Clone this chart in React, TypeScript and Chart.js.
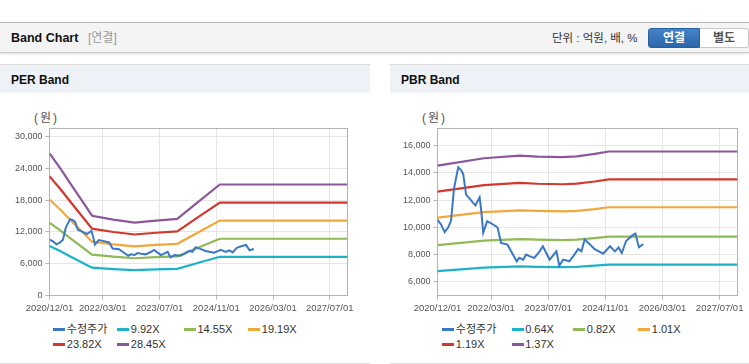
import React, { useEffect, useRef } from 'react';
import { Chart, registerables } from 'chart.js';

Chart.register(...registerables);

// ---------- data ----------
const xTickMonths = [0, 15, 31, 47, 63, 79]; // months since 2020/12
const xTickLabels = ['2020/12/01', '2022/03/01', '2023/07/01', '2024/11/01', '2026/03/01', '2027/07/01'];

const priceMonths = [0, 1, 2, 3, 3.8, 4.6, 5.8, 6.6, 7.2, 8.0, 9.0, 10.6, 11.8, 12.3, 12.8, 13.9, 15.0, 16.8, 17.8, 19.6, 20.5, 22.2, 22.9, 24.0, 24.8, 25.9, 27.1, 28.5, 29.5, 31.4, 33.3, 34.1, 35.2, 36.9, 38.0, 39.4, 40.3, 41.2, 42.5, 44.0, 46.4, 48.3, 49.7, 50.7, 51.6, 52.8, 54.5, 55.4, 56.4, 57.6];
const priceValues = [10560, 10200, 9650, 10000, 10500, 12800, 14400, 14200, 13900, 12400, 12100, 11600, 12200, 11100, 9600, 10450, 10300, 10000, 8850, 8730, 8300, 7500, 7760, 7630, 8000, 7870, 7760, 8200, 8610, 7630, 8240, 7190, 7630, 7510, 7870, 8420, 8240, 9100, 8800, 8400, 8070, 8610, 8240, 8530, 8120, 9000, 9390, 9540, 8530, 8780];

const perBandMonths = [0, 3, 6, 9, 12, 18, 24, 30, 36, 42, 48, 84];
const per992 = [9355, 8382, 7321, 6289, 5248, 4990, 4791, 4930, 5039, 6170, 7301, 7301];
const per1455 = [13721, 12295, 10738, 9225, 7697, 7319, 7028, 7231, 7391, 9050, 10709, 10709];
const per1919 = [18096, 16216, 14162, 12166, 10152, 9653, 9269, 9537, 9749, 11936, 14124, 14124];
const per2382 = [22462, 20128, 17579, 15102, 12601, 11981, 11505, 11839, 12101, 14816, 17532, 17532];
const per2845 = [26828, 24040, 20996, 18037, 15050, 14310, 13741, 14140, 14453, 17696, 20939, 20939];

const pbrBandMonths = [0, 13, 23, 28, 35, 39, 44, 48, 84];
const pbr064 = [6784, 7040, 7130, 7098, 7078, 7104, 7187, 7270, 7270];
const pbr082 = [8692, 9020, 9135, 9094, 9069, 9102, 9209, 9315, 9315];
const pbr101 = [10706, 11110, 11251, 11201, 11171, 11211, 11342, 11474, 11474];
const pbr119 = [12614, 13090, 13257, 13197, 13161, 13209, 13364, 13518, 13518];
const pbr137 = [14522, 15070, 15262, 15193, 15152, 15207, 15385, 15563, 15563];

const perLabels = ['수정주가', '9.92X', '14.55X', '19.19X', '23.82X', '28.45X'];
const pbrLabels = ['수정주가', '0.64X', '0.82X', '1.01X', '1.19X', '1.37X'];
const seriesColors = ['#3a78c6', '#1cb3c8', '#8fba55', '#f2a73a', '#d2382c', '#8c579b'];

const perYTicks = [0, 6000, 12000, 18000, 24000, 30000];
const pbrYTicks = [6000, 8000, 10000, 12000, 14000, 16000];

const FONT = "'Liberation Sans', Arial, 'Noto Sans CJK KR', sans-serif";

const toXY = (xs: number[], ys: number[]) => xs.map((x, i) => ({ x, y: ys[i] }));

const plotBorder = {
  id: 'plotBorder',
  beforeDatasetsDraw(chart: any) {
    const { ctx, chartArea } = chart;
    const { left, top, right, bottom } = chartArea;
    ctx.save();
    ctx.strokeStyle = '#b4b4b4';
    ctx.lineWidth = 1;
    ctx.strokeRect(left, top, right - left, bottom - top);
    ctx.restore();
  },
};

type BandChartProps = {
  width: number;
  height: number;
  axisWidth: number;
  padRight: number;
  padTop: number;
  axisHeight: number;
  yMin: number;
  yMax: number;
  yTicks: number[];
  bandMonths: number[];
  bands: number[][];
  labels: string[];
};

function BandCanvas(p: BandChartProps) {
  const ref = useRef<HTMLCanvasElement | null>(null);
  useEffect(() => {
    if (!ref.current) return;
    const datasets: any[] = [
      {
        label: p.labels[0],
        data: toXY(priceMonths, priceValues),
        borderColor: seriesColors[0],
        borderWidth: 2,
        pointRadius: 0,
        tension: 0,
      },
      ...p.bands.map((b, i) => ({
        label: p.labels[i + 1],
        data: toXY(p.bandMonths, b),
        borderColor: seriesColors[i + 1],
        borderWidth: 2.2,
        pointRadius: 0,
        tension: 0,
      })),
    ];
    const chart = new Chart(ref.current, {
      type: 'line',
      data: { datasets },
      plugins: [plotBorder],
      options: {
        animation: false,
        responsive: false,
        maintainAspectRatio: false,
        devicePixelRatio: 1,
        parsing: true,
        layout: { padding: { left: 0, top: p.padTop, right: p.padRight, bottom: 0 } },
        plugins: { legend: { display: false }, tooltip: { enabled: false }, title: { display: false } },
        scales: {
          x: {
            type: 'linear',
            min: 0,
            max: 84,
            afterBuildTicks: (s: any) => {
              s.ticks = xTickMonths.map((v) => ({ value: v }));
            },
            afterFit: (s: any) => {
              s.height = p.axisHeight;
            },
            ticks: {
              autoSkip: false,
              maxRotation: 0,
              color: '#555',
              padding: 3,
              font: { family: FONT, size: 9.5 },
              callback: (_v: any, i: number) => xTickLabels[i],
            },
            grid: { color: '#e6e6e6', tickColor: '#b4b4b4', tickLength: 4 },
            border: { color: '#b4b4b4' },
          },
          y: {
            type: 'linear',
            min: p.yMin,
            max: p.yMax,
            afterBuildTicks: (s: any) => {
              s.ticks = p.yTicks.map((v) => ({ value: v }));
            },
            afterFit: (s: any) => {
              s.width = p.axisWidth;
            },
            ticks: {
              color: '#555',
              padding: 3,
              font: { family: FONT, size: 9 },
              callback: (v: any) => Number(v).toLocaleString('en-US'),
            },
            grid: { color: '#e6e6e6', tickColor: '#b4b4b4', tickLength: 4 },
            border: { color: '#b4b4b4' },
          },
        },
      } as any,
    });
    return () => chart.destroy();
  }, []);
  return <canvas ref={ref} width={p.width} height={p.height} style={{ display: 'block', width: p.width, height: p.height }} />;
}

function Legend({ labels, cols, rows }: { labels: string[]; cols: number[]; rows: number[] }) {
  const pos = [
    [cols[0], rows[0]],
    [cols[1], rows[0]],
    [cols[2], rows[0]],
    [cols[3], rows[0]],
    [cols[0], rows[1]],
    [cols[1], rows[1]],
  ];
  return (
    <>
      {labels.map((l, i) => (
        <React.Fragment key={l}>
          <div style={{ position: 'absolute', left: pos[i][0], top: pos[i][1] - 1.5, width: 12, height: 3, background: seriesColors[i] }} />
          <div
            style={{
              position: 'absolute',
              left: pos[i][0] + 13.5,
              top: pos[i][1] - 7,
              lineHeight: '14px',
              fontSize: 11,
              color: '#333',
              whiteSpace: 'nowrap',
              fontFamily: FONT,
            }}
          >
            {l}
          </div>
        </React.Fragment>
      ))}
    </>
  );
}

export default function App() {
  useEffect(() => {
    document.body.style.margin = '0';
  }, []);
  const abs: React.CSSProperties = { position: 'absolute' };
  return (
    <div style={{ position: 'relative', width: 749, height: 364, background: '#fff', fontFamily: FONT, overflow: 'hidden' }}>
      {/* top header bar */}
      <div
        style={{
          ...abs,
          left: 0,
          top: 22,
          width: 749,
          height: 31,
          boxSizing: 'border-box',
          background: '#f4f4f4',
          borderTop: '1px solid #b9b9b9',
          borderBottom: '1px solid #c9c9c9',
          boxShadow: '0 1px 2px rgba(0,0,0,0.12)',
        }}
      />
      <div style={{ ...abs, left: 11, top: 30, lineHeight: '16px', fontSize: 12.5, fontWeight: 'bold', color: '#111' }}>Band Chart</div>
      <div style={{ ...abs, left: 88, top: 30, lineHeight: '16px', fontSize: 12, color: '#999' }}>[연결]</div>
      <div style={{ ...abs, left: 552, top: 30, lineHeight: '16px', fontSize: 11.5, color: '#333' }}>단위 : 억원, 배, %</div>
      <div
        style={{
          ...abs,
          left: 648,
          top: 28,
          width: 52,
          height: 20,
          boxSizing: 'border-box',
          background: 'linear-gradient(#4683c8, #2b66aa)',
          border: '1px solid #2a5f9e',
          borderRadius: '3px 0 0 3px',
          color: '#fff',
          fontWeight: 'bold',
          fontSize: 12,
          lineHeight: '18px',
          textAlign: 'center',
        }}
      >
        연결
      </div>
      <div
        style={{
          ...abs,
          left: 700,
          top: 28,
          width: 49,
          height: 20,
          boxSizing: 'border-box',
          background: '#fff',
          border: '1px solid #c8c8c8',
          borderLeft: 'none',
          borderRadius: '0 3px 3px 0',
          color: '#555',
          fontWeight: 'bold',
          fontSize: 12,
          lineHeight: '18px',
          textAlign: 'center',
        }}
      >
        별도
      </div>

      {/* PER panel */}
      <div style={{ ...abs, left: 0, top: 64, width: 370, height: 300, boxSizing: 'border-box', borderTop: '1px solid #dcdcdc', borderBottom: '1px solid #dcdcdc' }} />
      <div style={{ ...abs, left: 0, top: 65, width: 370, height: 28, background: '#eef2f7' }} />
      <div style={{ ...abs, left: 11, top: 72, lineHeight: '17px', fontSize: 12, fontWeight: 'bold', color: '#111' }}>PER Band</div>
      <div style={{ ...abs, left: 34, top: 111, lineHeight: '14px', fontSize: 12, color: '#555', letterSpacing: '2px' }}>(원)</div>
      <div style={{ ...abs, left: 0, top: 93 }}>
        <BandCanvas
          width={370}
          height={227}
          axisWidth={49.5}
          padRight={22.5}
          padTop={35.5}
          axisHeight={24.5}
          yMin={0}
          yMax={31500}
          yTicks={perYTicks}
          bandMonths={perBandMonths}
          bands={[per992, per1455, per1919, per2382, per2845]}
          labels={perLabels}
        />
      </div>
      <Legend labels={perLabels} cols={[53.3, 117.3, 184, 248.3]} rows={[329.3, 344.3]} />

      {/* PBR panel */}
      <div style={{ ...abs, left: 390, top: 64, width: 359, height: 300, boxSizing: 'border-box', borderTop: '1px solid #dcdcdc', borderBottom: '1px solid #dcdcdc' }} />
      <div style={{ ...abs, left: 390, top: 65, width: 359, height: 28, background: '#eef2f7' }} />
      <div style={{ ...abs, left: 401, top: 72, lineHeight: '17px', fontSize: 12, fontWeight: 'bold', color: '#111' }}>PBR Band</div>
      <div style={{ ...abs, left: 422, top: 111, lineHeight: '14px', fontSize: 12, color: '#555', letterSpacing: '2px' }}>(원)</div>
      <div style={{ ...abs, left: 390, top: 93 }}>
        <BandCanvas
          width={359}
          height={227}
          axisWidth={47.5}
          padRight={11.5}
          padTop={35.5}
          axisHeight={24.5}
          yMin={5000}
          yMax={17250}
          yTicks={pbrYTicks}
          bandMonths={pbrBandMonths}
          bands={[pbr064, pbr082, pbr101, pbr119, pbr137]}
          labels={pbrLabels}
        />
      </div>
      <Legend labels={pbrLabels} cols={[442.3, 511.7, 573.3, 638.3]} rows={[329.3, 344.3]} />
    </div>
  );
}
